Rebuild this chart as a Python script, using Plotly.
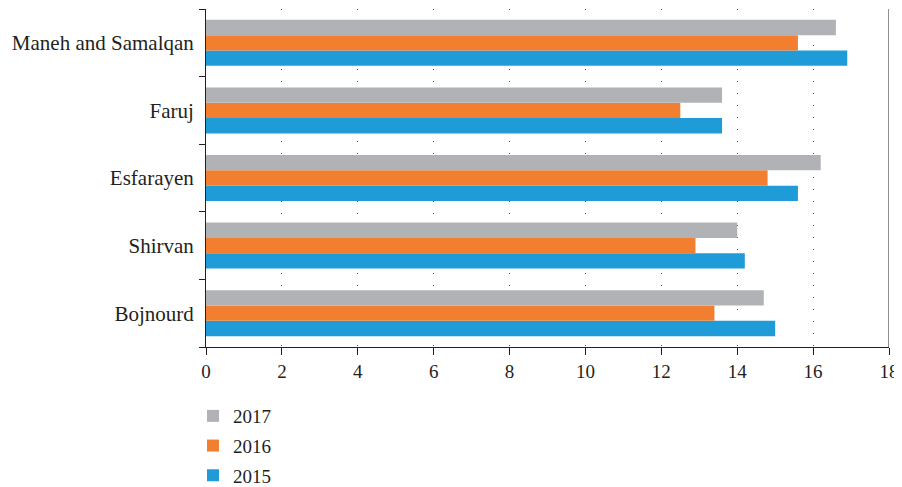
import plotly.graph_objects as go

categories = ["Bojnourd", "Shirvan", "Esfarayen", "Faruj", "Maneh and Samalqan"]
series_names = ["2015", "2016", "2017"]
values_2015 = [15.0, 14.2, 15.6, 13.6, 16.9]
values_2016 = [13.4, 12.9, 14.8, 12.5, 15.6]
values_2017 = [14.7, 14.0, 16.2, 13.6, 16.6]
colors = ["#1F9CD8", "#F27E2F", "#B1B2B6"]
legend_ranks = [3, 2, 1]
x_ticks = [0, 2, 4, 6, 8, 10, 12, 14, 16, 18]

FONT = "Liberation Serif"
TXT = "#231F20"
W, H = 894, 479

fig = go.Figure()
for name, vals, col, rank in zip(series_names, [values_2015, values_2016, values_2017], colors, legend_ranks):
    fig.add_trace(go.Bar(
        y=categories, x=vals, name=name, orientation="h",
        marker=dict(color=col, line=dict(width=0)),
        legendrank=rank, legendgroup=name,
    ))

fig.update_layout(
    width=W, height=H,
    barmode="group", bargap=0.32, bargroupgap=0,
    plot_bgcolor="white", paper_bgcolor="white",
    margin=dict(l=198, r=13, t=1, b=140, autoexpand=False),
    font=dict(family=FONT, size=19, color=TXT),
    showlegend=True,
    legend=dict(
        x=185 / W, y=1 - 389 / H, xref="container", yref="container",
        xanchor="left", yanchor="top",
        traceorder="grouped", tracegroupgap=2,
        font=dict(family=FONT, size=19, color=TXT),
        bgcolor="rgba(0,0,0,0)",
    ),
    xaxis=dict(
        range=[0, 18], tickvals=x_ticks, ticktext=[str(t) for t in x_ticks],
        showgrid=True, gridcolor="#555555", gridwidth=1, griddash="1px,11px",
        showline=True, linecolor=TXT, linewidth=1,
        ticks="outside", ticklen=7, tickcolor=TXT,
        zeroline=False, fixedrange=True, ticklabeloverflow="allow",
        tickfont=dict(size=19),
    ),
    yaxis=dict(
        categoryorder="array", categoryarray=categories,
        showline=True, linecolor=TXT, linewidth=1,
        ticks="outside", ticklen=6, tickcolor=TXT, tickson="boundaries",
        showgrid=False, zeroline=False, ticklabelstandoff=7,
        tickfont=dict(size=21),
    ),
)

fig.add_shape(type="line", xref="x", yref="paper", x0=18, x1=18, y0=0, y1=1,
              line=dict(color=TXT, width=1))

fig.write_html("out.html")
